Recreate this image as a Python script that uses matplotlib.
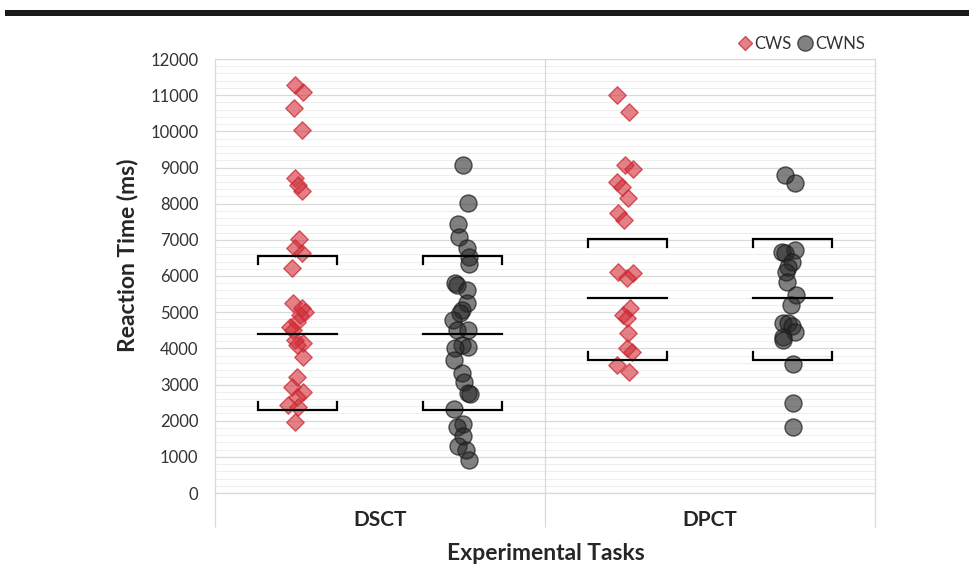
import matplotlib

matplotlib.use("Agg")

import matplotlib.pyplot as plt
from matplotlib.lines import Line2D
from matplotlib.patches import Rectangle
from matplotlib.ticker import MultipleLocator

OUTPUT_PNG = "out.png"

TASKS = ["DSCT", "DPCT"]
GROUPS = ["CWS", "CWNS"]

# reaction times (ms); jitter is the horizontal spread
# of each point, as a fraction of one task's width
DSCT_CWS = [11280, 11090, 10650, 10040, 8710, 8520, 8350, 7020, 6770, 6640,
            6220, 5250, 5110, 5000, 4920, 4730, 4590, 4500, 4230, 4150,
            4090, 3760, 3210, 2930, 2790, 2650, 2430, 2380, 1960]
DSCT_CWS_JITTER = [-0.008, 0.017, -0.011, 0.014, -0.008, 0.002, 0.014, 0.005, -0.008, 0.014,
                   -0.017, -0.014, 0.014, 0.023, 0.008, -0.002, -0.023, -0.014, -0.008, 0.017,
                   -0.002, 0.017, -0.002, -0.017, 0.017, -0.002, -0.029, 0.002, -0.008]

DSCT_CWNS = [9070, 8020, 7440, 7080, 6770, 6530, 6330, 5810, 5750, 5610,
             5250, 5060, 4980, 4780, 4510, 4510, 4090, 4040, 4010, 3680,
             3320, 3070, 2770, 2740, 2320, 1910, 1820, 1580, 1300, 1190, 910]
DSCT_CWNS_JITTER = [0.002, 0.017, -0.014, -0.011, 0.014, 0.020, 0.020, -0.023, -0.017, 0.014,
                    0.014, -0.002, -0.008, -0.029, -0.017, 0.017, -0.002, 0.017, -0.023, -0.026,
                    -0.002, 0.005, 0.017, 0.023, -0.026, 0.002, -0.017, 0.002, -0.014, 0.011, 0.020]

DPCT_CWS = [11000, 10540, 9070, 8960, 8600, 8460, 8160, 7740, 7550, 6110,
            6080, 5940, 5120, 4920, 4840, 4420, 4010, 3900, 3540, 3350]
DPCT_CWS_JITTER = [-0.032, 0.005, -0.008, 0.017, -0.032, -0.017, 0.002, -0.029, -0.011, -0.029,
                   0.017, -0.002, 0.008, -0.014, -0.002, 0.002, -0.002, 0.014, -0.032, 0.005]

DPCT_CWNS = [8790, 8570, 6720, 6660, 6640, 6390, 6250, 6110, 5830, 5470,
             5200, 4700, 4700, 4620, 4450, 4310, 4230, 3570, 2490, 1820]
DPCT_CWNS_JITTER = [-0.023, 0.008, 0.008, -0.032, -0.023, -0.002, -0.014, -0.020, -0.017, 0.011,
                    -0.005, -0.029, -0.014, -0.002, 0.008, -0.029, -0.029, 0.002, 0.002, 0.002]

# mean and mean +/- SD markers, the same for both groups of a task
TASK_MEAN = [4390, 5390]
TASK_UPPER = [6550, 7020]
TASK_LOWER = [2300, 3670]

RED_FACE = (0.82, 0.18, 0.22, 0.60)
RED_EDGE = (0.80, 0.16, 0.20, 0.75)
GREY_FACE = (0.15, 0.15, 0.15, 0.58)
GREY_EDGE = (0.10, 0.10, 0.10, 0.70)
TEXT = "#262626"


def main():
    plt.rcParams["font.family"] = ["Lato", "DejaVu Sans"]

    fig = plt.figure(figsize=(9.69, 5.74), dpi=100)
    ax = fig.add_axes([215 / 969, 1 - 493 / 574, 660 / 969, 434 / 574])

    # page rule across the top
    fig.add_artist(Rectangle((0.005, 1 - 16 / 574), 0.995, 6 / 574,
                             transform=fig.transFigure, color="#1a1a1a", lw=0))

    series = {
        (0, 0): (DSCT_CWS, DSCT_CWS_JITTER),
        (0, 1): (DSCT_CWNS, DSCT_CWNS_JITTER),
        (1, 0): (DPCT_CWS, DPCT_CWS_JITTER),
        (1, 1): (DPCT_CWNS, DPCT_CWNS_JITTER),
    }
    for (t, g), (vals, jit) in series.items():
        centre = t + 0.25 + 0.5 * g
        xs = [centre + j for j in jit]
        if g == 0:
            ax.scatter(xs, vals, marker="D", s=78, facecolors=RED_FACE,
                       edgecolors=RED_EDGE, linewidths=1.0, zorder=3)
        else:
            ax.scatter(xs, vals, marker="o", s=150, facecolors=GREY_FACE,
                       edgecolors=GREY_EDGE, linewidths=1.0, zorder=3)

        # mean line and SD brackets
        half = 0.121
        tick = 220
        x0, x1 = centre - half, centre + half
        ax.plot([x0, x1], [TASK_MEAN[t]] * 2, color="black", lw=1.6, zorder=4)
        up = TASK_UPPER[t]
        lo = TASK_LOWER[t]
        ax.plot([x0, x0, x1, x1], [up - tick, up, up, up - tick],
                color="black", lw=1.6, zorder=4, solid_joinstyle="miter")
        ax.plot([x0, x0, x1, x1], [lo + tick, lo, lo, lo + tick],
                color="black", lw=1.6, zorder=4, solid_joinstyle="miter")

    ax.set_xlim(0, 2)
    ax.set_ylim(0, 12000)
    ax.yaxis.set_major_locator(MultipleLocator(1000))
    ax.yaxis.set_minor_locator(MultipleLocator(200))
    ax.grid(axis="y", which="major", color="#d9d9d9", lw=0.9, zorder=0)
    ax.grid(axis="y", which="minor", color="#eeeeee", lw=0.8, zorder=0)
    ax.axvline(1, color="#d9d9d9", lw=0.9, zorder=1)
    ax.set_axisbelow(True)

    for side in ["top", "right", "left", "bottom"]:
        ax.spines[side].set_color("#d9d9d9")
        ax.spines[side].set_linewidth(0.9)
    ax.spines["top"].set_visible(False)

    ax.tick_params(axis="y", which="both", length=0, pad=12, labelsize=12,
                   labelcolor="#333333")

    # category dividers run below the axis as long ticks
    ax.set_xticks([0, 1, 2])
    ax.set_xticklabels(["", "", ""])
    ax.tick_params(axis="x", which="major", length=24.5, width=0.9, color="#d9d9d9")
    ax.set_xticks([0.5, 1.5], minor=True)
    ax.set_xticklabels(TASKS, minor=True, fontsize=15, fontweight="bold", color=TEXT)
    ax.tick_params(axis="x", which="minor", length=0, pad=12)

    fig.text(127 / 969, 1 - 255 / 574, "Reaction Time (ms)", rotation=90,
             ha="center", va="center", fontsize=16.5, fontweight="bold", color=TEXT)
    fig.text(546 / 969, 1 - 553 / 574, "Experimental Tasks",
             ha="center", va="center", fontsize=16.5, fontweight="bold", color=TEXT)

    handles = [
        Line2D([], [], marker="D", linestyle="", markersize=7.5,
               markerfacecolor=RED_FACE, markeredgecolor=RED_EDGE, label=GROUPS[0]),
        Line2D([], [], marker="o", linestyle="", markersize=11,
               markerfacecolor=GREY_FACE, markeredgecolor=GREY_EDGE, label=GROUPS[1]),
    ]
    ax.legend(handles=handles, loc="center right", bbox_to_anchor=(0.995, 1.035),
              ncol=2, frameon=False, fontsize=12, handlelength=0.8,
              handletextpad=0.2, columnspacing=0.4, borderaxespad=0,
              labelcolor="#333333")

    fig.savefig(OUTPUT_PNG, dpi=100)
    plt.close(fig)


if __name__ == "__main__":
    main()
